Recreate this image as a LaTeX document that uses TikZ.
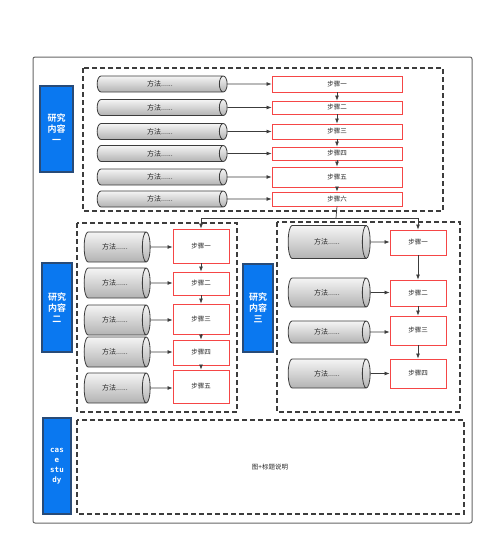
\documentclass[tikz,border=0pt]{standalone}
\usepackage{fontspec}
\usetikzlibrary{arrows.meta,shapes.geometric}
\newfontfamily\cjk{Noto Sans CJK SC}
\newfontfamily\cjkbold{Noto Sans CJK SC Bold}
\newfontfamily\monobold{DejaVu Sans Mono Bold}
\definecolor{topicBlue}{RGB}{10,120,240}
\definecolor{topicEdge}{RGB}{40,75,120}
\definecolor{stepRed}{RGB}{245,70,70}
\definecolor{inkGray}{RGB}{60,60,60}

\tikzset{
  methodcyl/.style={shape=cylinder, draw=inkGray, line width=0.8pt, inner sep=0pt,
    shape aspect=1.2, top color=gray!8, bottom color=gray!60,
    font=\cjk\fontsize{7}{8}\selectfont, text=black!85},
  stepbox/.style={draw=stepRed, line width=0.9pt, fill=white, inner sep=0pt,
    font=\cjk\fontsize{6.5}{7}\selectfont, text=black!85},
  topicbox/.style={draw=topicEdge, line width=1.2pt, fill=topicBlue, text=white,
    inner sep=0pt, align=center, font=\cjkbold\fontsize{9}{11}\selectfont},
  groupbox/.style={draw=inkGray, line width=1.2pt, dash pattern=on 5pt off 3pt},
  flowarrow/.style={draw=inkGray, line width=0.7pt, -{Latex[length=5pt,width=4pt]}},
}

\begin{document}
\begin{tikzpicture}[x=1pt, y=-1pt]
  \useasboundingbox (0,0) rectangle (500,552);

  % frame and dashed groups
  \draw[gray!80!black, line width=1pt, rounded corners=2pt] (33,57) rectangle (472,523);
  \draw[groupbox] (83,68) rectangle (443,211);
  \draw[groupbox] (77,223) rectangle (237,412);
  \draw[groupbox] (277,222) rectangle (460,412);
  \draw[groupbox] (77,420) rectangle (464,514);
  \node[font=\cjk\fontsize{6.5}{7}\selectfont, text=black!85] (caption) at (270,467) {图+标题说明};

  % topic labels
  \node[topicbox, minimum width=33pt, minimum height=86pt] (topicA) at (56.5,129) {研究\\内容\\一};
  \node[topicbox, minimum width=30pt, minimum height=89pt] (topicB) at (57,307.5) {研究\\内容\\二};
  \node[topicbox, minimum width=30pt, minimum height=88pt] (topicC) at (258,308) {研究\\内容\\三};
  \node[topicbox, minimum width=28pt, minimum height=96pt, font=\monobold\fontsize{7.5}{10}\selectfont] (topicD) at (57,466) {cas\\e\\stu\\dy};

  % research content one
  \foreach \i/\y/\h/\n in {1/84/16/一, 2/107.5/13/二, 3/131.5/15/三, 4/153.5/13/四, 5/177/20/五, 6/199/14/六} {
    \node[methodcyl, minimum height=130pt, minimum width=16pt] (a\i) at (160,\y) {方法......};
    \node[stepbox, minimum width=130pt, minimum height=\h pt] (sa\i) at (337,\y) {步骤\n};
    \draw[flowarrow] (a\i) -- (sa\i);
  }
  \foreach \i [count=\j from 2] in {1,...,5}
    \draw[flowarrow] (sa\i) -- (sa\j);

  % research content two
  \foreach \i/\y/\sy/\h/\n in {1/247/246/34/一, 2/283/283.5/23/二, 3/320/319/30/三, 4/352/352.5/25/四, 5/388/386.5/33/五} {
    \node[methodcyl, minimum height=66pt, minimum width=30pt] (b\i) at (115,\y) {方法......};
    \node[stepbox, minimum width=56pt, minimum height=\h pt] (sb\i) at (201,\sy) {步骤\n};
    \draw[flowarrow] (b\i) -- (b\i -| sb\i.west);
  }
  \foreach \i [count=\j from 2] in {1,...,4}
    \draw[flowarrow] (sb\i) -- (sb\j);

  % research content three
  \foreach \i/\y/\ch/\sy/\h/\n in {1/242/33/242.5/25/一, 2/292.5/29/293/26/二, 3/332/22/330.5/29/三, 4/373.5/29/373.5/29/四} {
    \node[methodcyl, minimum height=82pt, minimum width=\ch pt] (c\i) at (327,\y) {方法......};
    \node[stepbox, minimum width=56pt, minimum height=\h pt] (sc\i) at (418,\sy) {步骤\n};
    \draw[flowarrow] (c\i) -- (c\i -| sc\i.west);
  }
  \foreach \i [count=\j from 2] in {1,...,3}
    \draw[flowarrow] (sc\i) -- (sc\j);

  % split from step six
  \coordinate (split) at (336,218);
  \draw[inkGray, line width=0.7pt] (sa6.south) -- (split);
  \draw[flowarrow] (split) -| (sb1.north);
  \draw[flowarrow] (split) -| (sc1.north);

\end{tikzpicture}
\end{document}
